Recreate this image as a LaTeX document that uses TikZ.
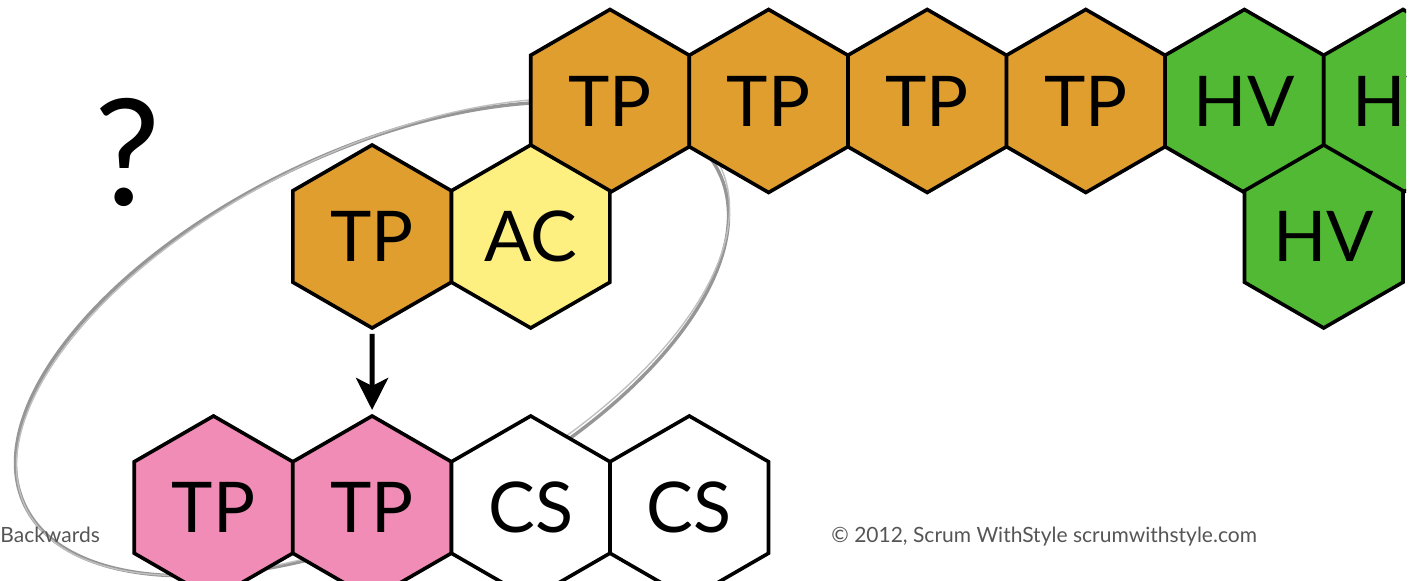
\documentclass[tikz,border=0pt]{standalone}
\usepackage{fontspec}
\setmainfont{Lato}
\usetikzlibrary{shapes.geometric,arrows.meta}
\usepackage{xcolor}
\definecolor{tporange}{RGB}{224,158,47}
\definecolor{acyellow}{RGB}{254,240,128}
\definecolor{hvgreen}{RGB}{82,185,52}
\definecolor{tppink}{RGB}{240,140,182}
\definecolor{loopgray}{RGB}{150,150,150}
\definecolor{footgray}{RGB}{85,85,85}
\tikzset{hexcell/.style={regular polygon, regular polygon sides=6, shape border rotate=30,
      minimum size=91.5pt, inner sep=0pt, outer sep=0pt,
      draw=black, line width=1.8pt, font=\fontsize{35}{40}\selectfont}}
\tikzset{tpcell/.style={hexcell, fill=tporange}}
\tikzset{accell/.style={hexcell, fill=acyellow}}
\tikzset{hvcell/.style={hexcell, fill=hvgreen}}
\tikzset{pkcell/.style={hexcell, fill=tppink}}
\tikzset{cscell/.style={hexcell, fill=white}}
\tikzset{foot/.style={text=footgray, font=\fontsize{10.5}{12}\selectfont, inner sep=0pt}}

\begin{document}
\begin{tikzpicture}[x=0.5pt,y=-0.5pt]

	\useasboundingbox (0,0) rectangle (1414,581);
	\begin{scope}
	\clip (0,0) rectangle (1406,581);

	% sketched loop, behind the cells
	\draw[loopgray, line width=1.7pt, rotate around={25.6:(372,339)}] (372,339) ellipse [x radius=385, y radius=187];
	\draw[loopgray!60, line width=0.7pt, rotate around={26.3:(373,337)}] (373,337) ellipse [x radius=387, y radius=185];

	\node [font=\fontsize{74}{80}\selectfont, inner sep=0pt] (qmark) at (128,152) {?};

	% top row
	\node [tpcell] (t1) at (610,101) {TP};
	\node [tpcell] (t2) at (768.6,101) {TP};
	\node [tpcell] (t3) at (927.2,101) {TP};
	\node [tpcell] (t4) at (1085.8,101) {TP};
	\node [hvcell] (h1) at (1244.4,101) {HV};
	\node [hvcell] (h2) at (1403,101) {HV};

	% middle row
	\node [tpcell] (m1) at (372.1,236.5) {TP};
	\node [accell] (m2) at (530.7,236.5) {AC};
	\node [hvcell] (h3) at (1323.7,236.5) {HV};

	% bottom row
	\node [pkcell] (b1) at (213.5,507.5) {TP};
	\node [pkcell] (b2) at (372.1,507.5) {TP};
	\node [cscell] (b3) at (530.7,507.5) {CS};
	\node [cscell] (b4) at (689.3,507.5) {CS};

	\draw[line width=2.6pt, -{Stealth[length=16pt, width=16pt, inset=4pt]}, shorten <=3pt, shorten >=3pt] (m1) -- (b2);

	\node [foot, anchor=base west] (back) at (0,543) {Backwards};
	\node [foot, anchor=base west] (copy) at (831,543) {© 2012, Scrum WithStyle scrumwithstyle.com};
	\end{scope}
\end{tikzpicture}
\end{document}
